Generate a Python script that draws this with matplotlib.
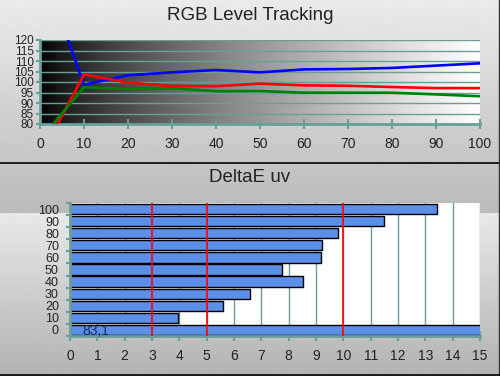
import numpy as np
import matplotlib
matplotlib.use("Agg")
import matplotlib.pyplot as plt
from matplotlib.lines import Line2D

plt.rcParams['font.family'] = ['Liberation Sans', 'DejaVu Sans']

# RGB level tracking data (stimulus % -> level %)
levels = [0, 10, 20, 30, 40, 50, 60, 70, 80, 90, 100]
red = [64.3, 103.6, 99.7, 98.1, 98.0, 99.2, 98.4, 98.2, 97.6, 97.1, 97.1]
green = [72.5, 97.5, 96.7, 97.0, 95.6, 95.7, 94.9, 94.9, 94.9, 94.1, 93.2]
blue = [157.8, 98.7, 103.2, 104.6, 105.7, 104.6, 106.0, 106.2, 106.7, 107.8, 108.9]

# DeltaE uv per stimulus level
de_labels = ['0', '10', '20', '30', '40', '50', '60', '70', '80', '90', '100']
de_values = [83.1, 3.94, 5.61, 6.6, 8.54, 7.74, 9.2, 9.23, 9.79, 11.5, 13.41]
thresholds = [3, 5, 10]

teal = '#6a9e9a'
txt = '#222222'

fig = plt.figure(figsize=(5, 3.76), dpi=100)

# panel backgrounds (vertical gray gradients)
def panel(rect, top, bottom):
    bg = fig.add_axes(rect, zorder=-10)
    grad = np.linspace(top, bottom, 256).reshape(-1, 1)
    bg.imshow(grad, cmap='gray', vmin=0, vmax=1, aspect='auto',
              extent=[0, 1, 0, 1])
    bg.set_xlim(0, 1)
    bg.set_ylim(0, 1)
    bg.axis('off')
    return bg

panel([0, 163 / 376, 1, 213 / 376], 0.92, 0.73)
panel([0, 0, 1, 163 / 376], 0.91, 0.70)
fig.add_artist(Line2D([0, 1], [213 / 376, 213 / 376], color='black', lw=1.2))
fig.add_artist(Line2D([0.998, 0.998], [0, 1], color='#333333', lw=1.0))
fig.add_artist(Line2D([0, 1], [0.002, 0.002], color='black', lw=1.2))

fig.text(0.5, 1 - 15 / 376, 'RGB Level Tracking', ha='center', va='center',
         fontsize=13.5, color=txt)
fig.text(0.5, 1 - 177 / 376, 'DeltaE uv', ha='center', va='center',
         fontsize=13.5, color=txt)

# top chart
ax1 = fig.add_axes([40 / 500, 1 - 124 / 376, 440 / 500, 84 / 376])
xs = np.linspace(0, 1, 400)
ax1.imshow((xs ** 0.75).reshape(1, -1), cmap='gray', vmin=0, vmax=1,
           aspect='auto', extent=[0, 100, 80, 120], zorder=0)
ax1.plot(levels, blue, color='#0000ff', lw=1.9, zorder=3)
ax1.plot(levels, red, color='#ff0000', lw=1.9, zorder=3)
ax1.plot(levels, green, color='#008000', lw=1.9, zorder=3)
ax1.set_xlim(0, 100)
ax1.set_ylim(80, 120)
ax1.set_xticks(range(0, 101, 10))
ax1.set_yticks(range(80, 121, 5))
ax1.yaxis.grid(True, color=teal, lw=1.0)
ax1.tick_params(axis='x', direction='inout', length=7, width=1.5,
                color=teal, labelsize=10, labelcolor=txt, pad=6)
ax1.tick_params(axis='y', direction='out', length=3, width=1.5,
                color=teal, labelsize=8.5, labelcolor=txt, pad=1.5)
for s in ['top', 'right']:
    ax1.spines[s].set_visible(False)
for s in ['left', 'bottom']:
    ax1.spines[s].set_color(teal)
    ax1.spines[s].set_linewidth(2)

# bottom chart
ax2 = fig.add_axes([70 / 500, 40 / 376, 410 / 500, 133 / 376])
ax2.set_facecolor('white')
ypos = np.arange(len(de_labels))
ax2.barh(ypos, de_values, height=0.85, color='#5b8fe8', edgecolor='black',
         lw=1.0, zorder=2)
for t in thresholds:
    ax2.axvline(t, color='#ff0000', lw=1.2, zorder=4)
ax2.text(0.45, -0.1, f"{de_values[0]:.1f}".replace('.', ','), color='#1a2a5a',
         fontsize=10, ha='left', va='center', zorder=5)
ax2.set_xlim(0, 15)
ax2.set_ylim(-0.5, len(de_labels) - 0.5)
ax2.set_xticks(range(0, 16))
ax2.set_yticks(ypos)
ax2.set_yticklabels(de_labels)
ax2.set_yticks(np.arange(-0.5, len(de_labels)), minor=True)
ax2.set_axisbelow(True)
ax2.xaxis.grid(True, color=teal, lw=1.0)
ax2.tick_params(axis='x', direction='inout', length=7, width=1.5,
                color=teal, labelsize=10, labelcolor=txt, pad=6)
ax2.tick_params(axis='y', which='major', length=0, labelsize=9,
                labelcolor=txt, pad=8)
ax2.tick_params(axis='y', which='minor', direction='out', length=3,
                width=1.5, color=teal)
for s in ['top', 'right']:
    ax2.spines[s].set_visible(False)
for s in ['left', 'bottom']:
    ax2.spines[s].set_color(teal)
    ax2.spines[s].set_linewidth(2)

fig.savefig('out.png', dpi=100)
